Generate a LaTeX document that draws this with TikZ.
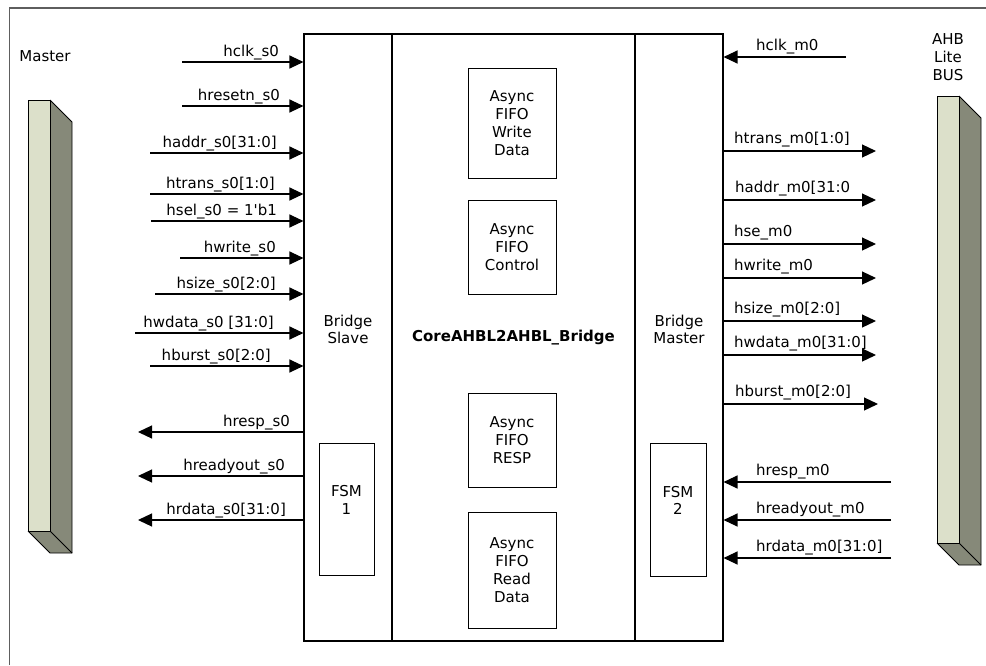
\documentclass[tikz,border=0pt]{standalone}
\usepackage{fontspec}
\setmainfont{DejaVu Sans}
\usetikzlibrary{arrows.meta,positioning,calc}
\usepackage{xcolor}
\definecolor{BarFace}{HTML}{DCE0CA}
\definecolor{BarSide}{HTML}{868979}
\definecolor{Frame}{HTML}{5E5E5E}

\tikzset{
  blk/.style={draw,line width=1.1pt,inner sep=0pt},
  sub/.style={draw,line width=0.9pt,inner sep=0pt,align=center,minimum width=88pt},
  txt/.style={align=center,inner sep=0pt},
  sig/.style={->,line width=1.2pt},
  lblL/.style={anchor=base east,inner sep=0pt},
  lblR/.style={anchor=base west,inner sep=0pt}
}

\begin{document}
\begin{tikzpicture}[x=1pt,y=-1pt,>={Triangle[length=14pt,width=13pt]},
  font=\fontsize{15}{17.8}\selectfont]
\useasboundingbox (0,0) rectangle (986,665);
\draw[Frame,line width=1.5pt] (9.5,665) -- (9.5,8) -- (986,8);

% bus bars
\fill[BarFace] (28,100) rectangle (50,531);
\fill[BarSide] (50,100) -- (72,122) -- (72,553) -- (50,553) -- (28,531) -- (50,531) -- cycle;
\draw[line width=0.9pt] (28,100) rectangle (50,531);
\draw[line width=0.9pt] (50,100) -- (72,122) -- (72,553) -- (50,553) -- (28,531);
\draw[line width=0.9pt] (50,531) -- (72,553);
\fill[BarFace] (937,96) rectangle (959,543);
\fill[BarSide] (959,96) -- (981,118) -- (981,565) -- (959,565) -- (937,543) -- (959,543) -- cycle;
\draw[line width=0.9pt] (937,96) rectangle (959,543);
\draw[line width=0.9pt] (959,96) -- (981,118) -- (981,565) -- (959,565) -- (937,543);
\draw[line width=0.9pt] (959,543) -- (981,565);

\node[txt] (mst) at (45,56) {Master};
\node[txt] (ahb) at (948,57) {AHB\\Lite\\BUS};

% bridge blocks
\node[blk,minimum width=88pt,minimum height=607pt] (slave) at (348,337.5) {};
\node[blk,minimum width=243pt,minimum height=607pt,font=\fontsize{15}{17.8}\selectfont\bfseries] (core) at (513.5,337.5) {CoreAHBL2AHBL\_Bridge};
\node[blk,minimum width=88pt,minimum height=607pt] (master) at (679,337.5) {};
\node[txt] (slaveT) at ([yshift=8pt]slave.center) {Bridge\\Slave};
\node[txt] (masterT) at ([yshift=8pt]master.center) {Bridge\\Master};

\node[sub,minimum height=110pt] (wdata) at (512,123) {Async\\FIFO\\Write\\Data};
\node[sub,minimum height=94pt] (ctrl) at (512,247) {Async\\FIFO\\Control};
\node[sub,minimum height=94pt] (resp) at (512,440) {Async\\FIFO\\RESP};
\node[sub,minimum height=116pt] (rdata) at (512,570) {Async\\FIFO\\Read\\Data};

\node[sub,minimum width=55pt,minimum height=132pt] (fsmA) at (346.5,509) {};
\node[sub,minimum width=56pt,minimum height=133pt] (fsmB) at (678,509.5) {};
\node[txt] (fsmAT) at ([yshift=9pt]fsmA.center) {FSM\\1};
\node[txt] (fsmBT) at ([yshift=9pt]fsmB.center) {FSM\\2};

% slave side signals
\coordinate (hclkS) at (182,62);
\coordinate (hresetnS) at (182,106);
\coordinate (haddrS) at (150,153);
\coordinate (htransS) at (150,194);
\coordinate (hselS) at (151,221);
\coordinate (hwriteS) at (180,258);
\coordinate (hsizeS) at (155,294);
\coordinate (hwdataS) at (135,333);
\coordinate (hburstS) at (150,366);
\coordinate (hrespS) at (138,432);
\coordinate (hreadyS) at (138,476);
\coordinate (hrdataS) at (138,520);

\draw[sig] (hclkS) -- (hclkS -| slave.west) node[lblL,pos=1,xshift=-24pt,yshift=6pt] {hclk\_s0};
\draw[sig] (hresetnS) -- (hresetnS -| slave.west) node[lblL,pos=1,xshift=-23pt,yshift=6pt] {hresetn\_s0};
\draw[sig] (haddrS) -- (haddrS -| slave.west) node[lblL,pos=1,xshift=-26pt,yshift=6pt] {haddr\_s0[31:0]};
\draw[sig] (htransS) -- (htransS -| slave.west) node[lblL,pos=1,xshift=-28pt,yshift=6pt] {htrans\_s0[1:0]};
\draw[sig] (hselS) -- (hselS -| slave.west) node[lblL,pos=1,xshift=-26pt,yshift=6pt] {hsel\_s0 = 1\textquotesingle b1};
\draw[sig] (hwriteS) -- (hwriteS -| slave.west) node[lblL,pos=1,xshift=-27pt,yshift=6pt] {hwrite\_s0};
\draw[sig] (hsizeS) -- (hsizeS -| slave.west) node[lblL,pos=1,xshift=-27pt,yshift=6pt] {hsize\_s0[2:0]};
\draw[sig] (hwdataS) -- (hwdataS -| slave.west) node[lblL,pos=1,xshift=-29pt,yshift=6pt] {hwdata\_s0 [31:0]};
\draw[sig] (hburstS) -- (hburstS -| slave.west) node[lblL,pos=1,xshift=-32pt,yshift=6pt] {hburst\_s0[2:0]};
\draw[sig] (hrespS -| slave.west) -- (hrespS) node[lblL,pos=0,xshift=-13pt,yshift=6pt] {hresp\_s0};
\draw[sig] (hreadyS -| slave.west) -- (hreadyS) node[lblL,pos=0,xshift=-18pt,yshift=6pt] {hreadyout\_s0};
\draw[sig] (hrdataS -| slave.west) -- (hrdataS) node[lblL,pos=0,xshift=-17pt,yshift=6pt] {hrdata\_s0[31:0]};

% master side signals
\coordinate (hclkM) at (846,57);
\coordinate (htransM) at (876,151);
\coordinate (haddrM) at (876,200);
\coordinate (hseM) at (876,244);
\coordinate (hwriteM) at (876,278);
\coordinate (hsizeM) at (876,321);
\coordinate (hwdataM) at (876,355);
\coordinate (hburstM) at (878,404);
\coordinate (hrespM) at (891,482);
\coordinate (hreadyM) at (891,520);
\coordinate (hrdataM) at (891,558);

\draw[sig] (hclkM) -- (hclkM -| master.east) node[lblR,pos=1,xshift=32pt,yshift=7pt] {hclk\_m0};
\draw[sig] (htransM -| master.east) -- (htransM) node[lblR,pos=0,xshift=10pt,yshift=8pt] {htrans\_m0[1:0]};
\draw[sig] (haddrM -| master.east) -- (haddrM) node[lblR,pos=0,xshift=11pt,yshift=8pt] {haddr\_m0[31:0};
\draw[sig] (hseM -| master.east) -- (hseM) node[lblR,pos=0,xshift=10pt,yshift=8pt] {hse\_m0};
\draw[sig] (hwriteM -| master.east) -- (hwriteM) node[lblR,pos=0,xshift=10pt,yshift=8pt] {hwrite\_m0};
\draw[sig] (hsizeM -| master.east) -- (hsizeM) node[lblR,pos=0,xshift=10pt,yshift=8pt] {hsize\_m0[2:0]};
\draw[sig] (hwdataM -| master.east) -- (hwdataM) node[lblR,pos=0,xshift=10pt,yshift=8pt] {hwdata\_m0[31:0]};
\draw[sig] (hburstM -| master.east) -- (hburstM) node[lblR,pos=0,xshift=11pt,yshift=8pt] {hburst\_m0[2:0]};
\draw[sig] (hrespM) -- (hrespM -| master.east) node[lblR,pos=1,xshift=32pt,yshift=7pt] {hresp\_m0};
\draw[sig] (hreadyM) -- (hreadyM -| master.east) node[lblR,pos=1,xshift=32pt,yshift=7pt] {hreadyout\_m0};
\draw[sig] (hrdataM) -- (hrdataM -| master.east) node[lblR,pos=1,xshift=32pt,yshift=7pt] {hrdata\_m0[31:0]};
\end{tikzpicture}
\end{document}
